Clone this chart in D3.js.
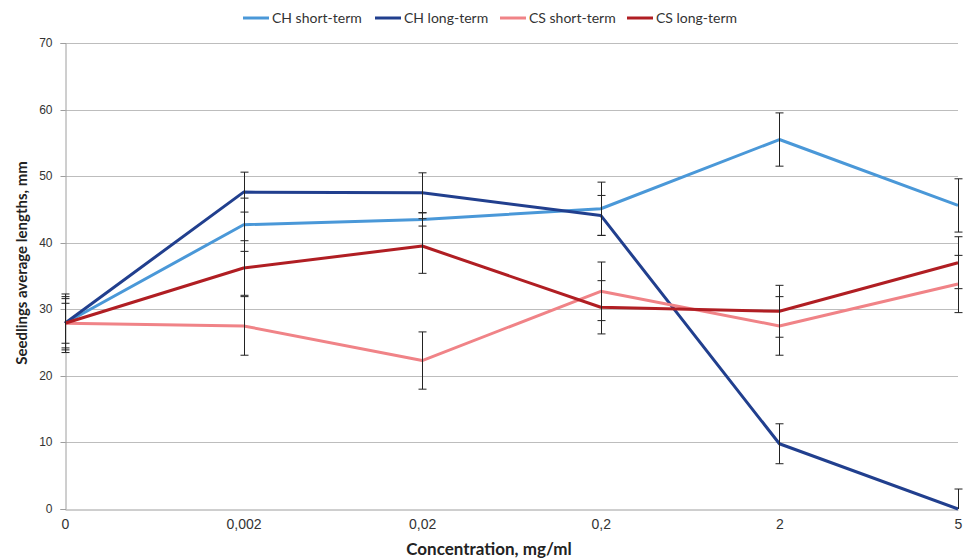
<!DOCTYPE html>
<html>
<head>
<meta charset="utf-8">
<script src="https://cdn.jsdelivr.net/npm/d3@7"></script>
<style>
  body { margin: 0; background: #fff; }
  svg { font-family: Lato, "Open Sans", sans-serif; }
</style>
</head>
<body>
<div id="chart"></div>
<script>
const categories = ["0", "0,002", "0,02", "0,2", "2", "5"];
const yTicks = [0, 10, 20, 30, 40, 50, 60, 70];

const seriesNames = ["CH short-term", "CH long-term", "CS short-term", "CS long-term"];
const seriesColors = ["#4a98d8", "#213f8e", "#f08387", "#b01e23"];

const chShort = [27.9, 42.7, 43.5, 45.1, 55.5, 45.6];
const chLong = [27.9, 47.6, 47.5, 44.1, 9.8, 0];
const csShort = [27.9, 27.5, 22.3, 32.7, 27.5, 33.8];
const csLong = [27.9, 36.2, 39.5, 30.3, 29.7, 37.0];

const chShortErr = [4.0, 4.0, 1.0, 4.0, 4.0, 4.0];
const chLongErr = [3.0, 3.0, 3.0, 3.0, 3.0, 3.0];
const csShortErr = [4.4, 4.4, 4.3, 4.4, 4.4, 4.3];
const csLongErr = [3.7, 4.1, 4.1, 4.0, 3.9, 3.9];

const values = [chShort, chLong, csShort, csLong];
const errors = [chShortErr, chLongErr, csShortErr, csLongErr];

const width = 965, height = 560;
const margin = { top: 43, right: 7, bottom: 51, left: 65 };
const innerW = width - margin.left - margin.right;
const innerH = height - margin.top - margin.bottom;

const svg = d3.select("#chart").append("svg")
  .attr("width", width)
  .attr("height", height);

const x = d3.scalePoint().domain(categories).range([0, innerW]);
const y = d3.scaleLinear().domain([0, 70]).range([innerH, 0]);

const g = svg.append("g")
  .attr("transform", "translate(" + margin.left + "," + margin.top + ")");

// gridlines
g.append("g")
  .selectAll("line")
  .data(yTicks.filter(d => d > 0))
  .join("line")
  .attr("x1", 0).attr("x2", innerW)
  .attr("y1", d => Math.round(y(d)) + 0.5).attr("y2", d => Math.round(y(d)) + 0.5)
  .attr("stroke", "#bdbdbd")
  .attr("stroke-width", 1);

// y axis
const yAxis = g.append("g")
  .attr("transform", "translate(0.5,0)")
  .call(d3.axisLeft(y).tickValues(yTicks).tickSize(5).tickPadding(8));
yAxis.select(".domain").attr("stroke", "#9e9e9e");
yAxis.selectAll(".tick line").attr("stroke", "#9e9e9e");
yAxis.selectAll("text").attr("font-size", 12).attr("fill", "#333");
yAxis.selectAll(".tick").attr("transform", d => "translate(0," + (Math.round(y(d)) + 0.5) + ")");

// x axis
const xAxis = g.append("g")
  .attr("transform", "translate(0," + (innerH + 0.5) + ")")
  .call(d3.axisBottom(x).tickSize(0).tickPadding(10));
xAxis.select(".domain").attr("stroke", "#9e9e9e");
xAxis.selectAll("text").attr("font-size", 14).attr("fill", "#333");

// lines
const line = d3.line()
  .x((d, i) => x(categories[i]))
  .y(d => y(d));

values.forEach((vals, s) => {
  g.append("path")
    .datum(vals)
    .attr("fill", "none")
    .attr("stroke", seriesColors[s])
    .attr("stroke-width", 3)
    .attr("stroke-linejoin", "round")
    .attr("d", line);
});

// error bars
const capW = 4;
values.forEach((vals, s) => {
  const eg = g.append("g").attr("stroke", "#222").attr("stroke-width", 1);
  vals.forEach((v, i) => {
    const cx = Math.round(x(categories[i])) + 0.5;
    const top = y(Math.min(70, v + errors[s][i]));
    const bot = y(Math.max(0, v - errors[s][i]));
    eg.append("line").attr("x1", cx).attr("x2", cx).attr("y1", top).attr("y2", bot);
    if (v + errors[s][i] <= 70)
      eg.append("line").attr("x1", cx - capW).attr("x2", cx + capW).attr("y1", top).attr("y2", top);
    if (v - errors[s][i] >= 0)
      eg.append("line").attr("x1", cx - capW).attr("x2", cx + capW).attr("y1", bot).attr("y2", bot);
  });
});

// axis titles
svg.append("text")
  .attr("transform", "translate(27,263) rotate(-90)")
  .attr("text-anchor", "middle")
  .attr("font-size", 15)
  .attr("font-weight", "bold")
  .attr("fill", "#222")
  .text("Seedlings average lengths, mm");

svg.append("text")
  .attr("x", 489)
  .attr("y", 555)
  .attr("text-anchor", "middle")
  .attr("font-size", 17)
  .attr("font-weight", "bold")
  .attr("fill", "#222")
  .text("Concentration, mg/ml");

// legend
const legendX = [243, 375, 500, 627];
const legend = svg.append("g");
seriesNames.forEach((name, s) => {
  const lg = legend.append("g").attr("transform", "translate(" + legendX[s] + ",18)");
  lg.append("line")
    .attr("x1", 0).attr("x2", 26)
    .attr("stroke", seriesColors[s])
    .attr("stroke-width", 3);
  lg.append("text")
    .attr("x", 29).attr("y", 5)
    .attr("font-size", 14)
    .attr("fill", "#333")
    .text(name);
});
</script>
</body>
</html>
